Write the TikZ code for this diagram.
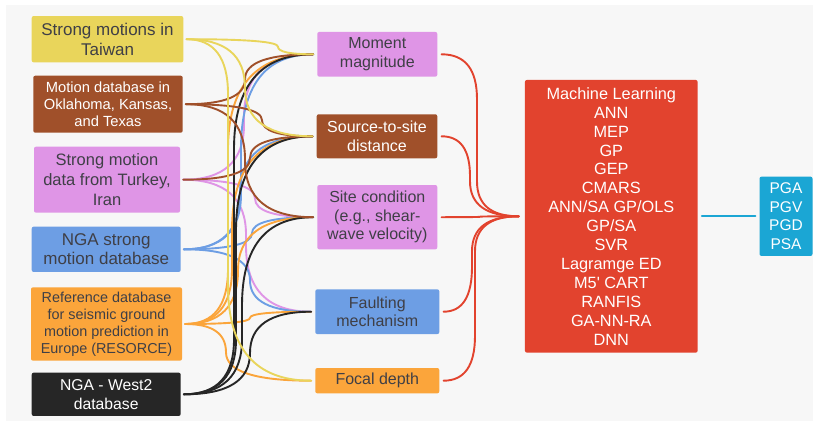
\documentclass[tikz,border=0pt]{standalone}
\usepackage{fontspec}
\setmainfont{Liberation Sans}
\usetikzlibrary{calc}

\definecolor{cYellow}{HTML}{E9D55B}
\definecolor{cBrown}{HTML}{A0502A}
\definecolor{cViolet}{HTML}{DF95E6}
\definecolor{cBlue}{HTML}{6D9EE4}
\definecolor{cOrange}{HTML}{FBA53B}
\definecolor{cBlack}{HTML}{262626}
\definecolor{cRed}{HTML}{E2432E}
\definecolor{cCyan}{HTML}{1BA6D4}
\definecolor{cInk}{HTML}{3F3F46}
\definecolor{cBack}{HTML}{F7F7F7}

\newcommand\fs[2]{\fontsize{#1}{#2}\selectfont}

\tikzset{
  box/.style={rounded corners=2pt, inner sep=0pt, align=center, text=cInk},
  wire/.style={line width=1.9pt, line cap=round},
}

% curved connector: leaves #2 horizontally, bends into a vertical run at
% x = #4, and bends back to enter #3 horizontally; #5 and #6 are the
% vertical lengths of the first and the last bend
\newcommand\wire[6]{%
  \path (#2); \pgfgetlastxy{\wXa}{\wYa}%
  \path (#3); \pgfgetlastxy{\wXb}{\wYb}%
  \pgfmathsetmacro\wD{\wYb-\wYa}%
  \pgfmathsetmacro\wFa{min(0.5,#5/(abs(\wD)+0.01))}%
  \pgfmathsetmacro\wFb{min(0.5,#6/(abs(\wD)+0.01))}%
  \pgfmathsetmacro\wYs{\wYa+\wFa*\wD}%
  \pgfmathsetmacro\wYe{\wYb-\wFb*\wD}%
  \pgfmathsetmacro\wCa{\wXa+2/3*(#4-\wXa)}%
  \pgfmathsetmacro\wCb{\wYs+2/3*(\wYa-\wYs)}%
  \pgfmathsetmacro\wCc{\wYe+2/3*(\wYb-\wYe)}%
  \pgfmathsetmacro\wCd{\wXb+2/3*(#4-\wXb)}%
  \draw[wire,#1] (#2) .. controls (\wCa pt,\wYa) and (#4pt,\wCb pt) .. (#4pt,\wYs pt)
     -- (#4pt,\wYe pt) .. controls (#4pt,\wCc pt) and (\wCd pt,\wYb) .. (#3);
}

\begin{document}
\begin{tikzpicture}[x=1pt,y=-1pt]
\useasboundingbox (0,0) rectangle (813,425);
\fill[white] (0,0) rectangle (813,425);
\fill[cBack] (6,5) rectangle (813,421);

% data sources
\node[box, fill=cYellow, font=\fs{17}{20}, minimum width=151.6pt, minimum height=46.3pt]
  (tw) at (107.5,39.2) {Strong motions in\\Taiwan};
\node[box, fill=cBrown, text=white, font=\fs{14.7}{16.8}, minimum width=149.4pt, minimum height=57pt]
  (ok) at (108,104.2) {Motion database in\\Oklahoma, Kansas,\\and Texas};
\node[box, fill=cViolet, font=\fs{16.5}{20}, minimum width=146pt, minimum height=66pt]
  (tk) at (107,179.7) {Strong motion\\data from Turkey,\\Iran};
\node[box, fill=cBlue, font=\fs{17}{19}, minimum width=149pt, minimum height=45.3pt]
  (nga) at (106.2,249.3) {NGA strong\\motion database};
\node[box, fill=cOrange, font=\fs{14.4}{17}, minimum width=151pt, minimum height=73.4pt]
  (res) at (106.5,324) {Reference database\\for seismic ground\\motion prediction in\\Europe (RESORCE)};
\node[box, fill=cBlack, text=white, font=\fs{15.7}{19.3}, minimum width=149pt, minimum height=43.3pt]
  (w2) at (106.2,394.3) {NGA - West2\\database};

% input parameters
\node[box, fill=cViolet, font=\fs{16}{18.5}, minimum width=120pt, minimum height=44.7pt]
  (mag) at (377.3,54.3) {Moment\\magnitude};
\node[box, fill=cBrown, text=white, font=\fs{16}{18.5}, minimum width=120.6pt, minimum height=44pt]
  (dist) at (377,136.3) {Source-to-site\\distance};
\node[box, fill=cViolet, font=\fs{16}{18.5}, minimum width=120pt, minimum height=64.3pt]
  (site) at (377.3,217.2) {Site condition\\(e.g., shear-\\wave velocity)};
\node[box, fill=cBlue, font=\fs{16}{18.5}, minimum width=124pt, minimum height=44.7pt]
  (flt) at (377.3,311.7) {Faulting\\mechanism};
\node[box, fill=cOrange, font=\fs{16}{18.5}, minimum width=124pt, minimum height=25.3pt]
  (foc) at (377.3,380.7) {Focal depth};

% models and outputs
\node[box, fill=cRed, text=white, font=\fs{16.3}{18.9}, minimum width=172.7pt, minimum height=272.7pt]
  (ml) at (611.3,216.3) {Machine Learning\\ANN\\MEP\\GP\\GEP\\CMARS\\ANN/SA GP/OLS\\GP/SA\\SVR\\Lagramge ED\\M5\textquotesingle{} CART\\RANFIS\\GA-NN-RA\\DNN};
\node[box, fill=cCyan, text=white, font=\fs{15.5}{18.5}, minimum width=53pt, minimum height=79.3pt]
  (pga) at (786,216.3) {PGA\\PGV\\PGD\\PSA};

% connector ports
\foreach \n in {tw,ok,tk,nga,res,w2}{\coordinate (\n-o) at ($(\n.east)+(3,0)$);}
\foreach \n in {mag,dist,site,flt,foc}{\coordinate (\n-i) at ($(\n.west)+(-4,0)$);}
\foreach \n in {mag,dist,site,flt,foc}{\coordinate (\n-o) at ($(\n.east)+(4,0)$);}
\coordinate (ml-i) at ($(ml.west)+(-6,0)$);

% sources to parameters
\wire{cViolet}{tk-o}{mag-i}{244}{55}{95}
\wire{cViolet}{tk-o}{site-i}{255}{55}{95}
\wire{cViolet}{tk-o}{flt-i}{246}{55}{95}
\wire{cBlue}{nga-o}{mag-i}{241}{55}{95}
\wire{cBlue}{nga-o}{dist-i}{240}{55}{95}
\wire{cBlue}{nga-o}{site-i}{252}{55}{95}
\wire{cBlue}{nga-o}{flt-i}{250}{55}{95}
\wire{cOrange}{res-o}{mag-i}{228}{55}{95}
\wire{cOrange}{res-o}{dist-i}{232}{55}{95}
\wire{cOrange}{res-o}{site-i}{238}{55}{95}
\wire{cOrange}{res-o}{flt-i}{250}{55}{95}
\wire{cOrange}{res-o}{foc-i}{226}{55}{95}
\wire{cBlack}{w2-o}{mag-i}{234}{55}{95}
\wire{cBlack}{w2-o}{dist-i}{236}{55}{95}
\wire{cBlack}{w2-o}{site-i}{242}{55}{95}
\wire{cBlack}{w2-o}{flt-i}{250}{55}{95}
\wire{cBrown}{ok-o}{mag-i}{245}{55}{95}
\wire{cBrown}{ok-o}{dist-i}{262}{55}{95}
\wire{cBrown}{ok-o}{site-i}{245}{55}{95}
\wire{cBrown}{tk-o}{dist-i}{250}{55}{95}
\wire{cYellow}{tw-o}{mag-i}{278}{55}{95}
\wire{cYellow}{tw-o}{dist-i}{245}{55}{95}
\wire{cYellow}{tw-o}{foc-i}{228}{55}{95}

% parameters to models
\wire{cRed}{mag-o}{ml-i}{477}{45}{35}
\wire{cRed}{dist-o}{ml-i}{470}{45}{35}
\wire{cRed}{site-o}{ml-i}{480}{45}{35}
\wire{cRed}{flt-o}{ml-i}{472}{45}{35}
\wire{cRed}{foc-o}{ml-i}{475}{45}{35}

% models to outputs
\draw[wire, cCyan, shorten <=4pt, shorten >=4pt] (ml.east) -- (pga.west);
\end{tikzpicture}
\end{document}
